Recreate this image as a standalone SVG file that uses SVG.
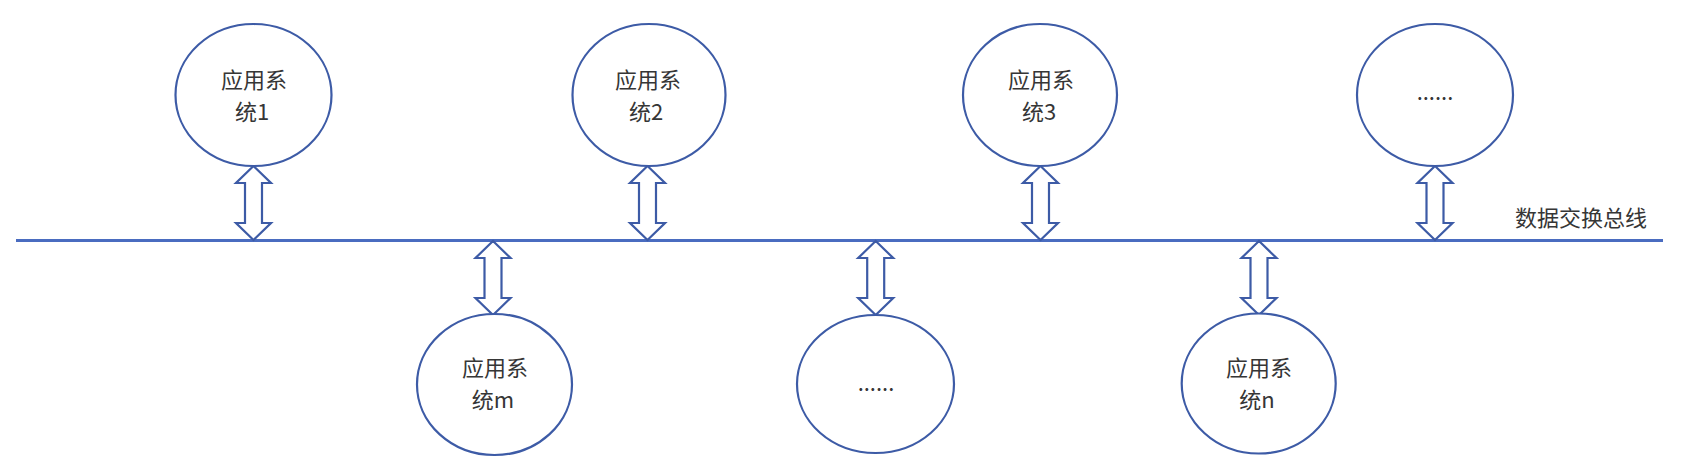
<svg xmlns="http://www.w3.org/2000/svg" width="1701" height="469" viewBox="0 0 1701 469">
<style>
.node ellipse{fill:#fff;stroke:#3d5ba6;stroke-width:2.2}
.lbl{font-family:"Noto Sans CJK SC","Noto Sans",sans-serif;font-size:22px;fill:#363636;text-anchor:middle}
.arr{fill:#fff;stroke:#3d5ba6;stroke-width:2.2;stroke-linejoin:miter}
</style>
<defs>
<path id="dblarrow" d="M0,0 L17.5,17 L8.5,17 L8.5,57 L17.5,57 L0,74 L-17.5,57 L-8.5,57 L-8.5,17 L-17.5,17 Z"/>
</defs>
<rect width="1701" height="469" fill="#fff"/>
<g id="connectors">
<line x1="16" y1="240.5" x2="1663" y2="240.5" stroke="#4a6cc0" stroke-width="3.2"/>
<use href="#dblarrow" class="arr" transform="translate(253.5,166)"/>
<use href="#dblarrow" class="arr" transform="translate(647.5,166)"/>
<use href="#dblarrow" class="arr" transform="translate(1040.5,166)"/>
<use href="#dblarrow" class="arr" transform="translate(1435,166)"/>
<use href="#dblarrow" class="arr" transform="translate(493,241)"/>
<use href="#dblarrow" class="arr" transform="translate(875.7,241)"/>
<use href="#dblarrow" class="arr" transform="translate(1259,241)"/>
</g>
<g id="bus-label"><text class="lbl" x="1581" y="226" font-size="23">数据交换总线</text></g>
<g id="node-app1" class="node"><ellipse cx="253.5" cy="95" rx="78" ry="71"/><text class="lbl"><tspan x="254" y="88">应用系</tspan><tspan x="252" y="120">统1</tspan></text></g>
<g id="node-app2" class="node"><ellipse cx="649" cy="95" rx="76.5" ry="71"/><text class="lbl"><tspan x="648" y="88">应用系</tspan><tspan x="646" y="120">统2</tspan></text></g>
<g id="node-app3" class="node"><ellipse cx="1040" cy="95" rx="77" ry="71"/><text class="lbl"><tspan x="1041" y="88">应用系</tspan><tspan x="1039" y="120">统3</tspan></text></g>
<g id="node-more-top" class="node"><ellipse cx="1435" cy="95" rx="78" ry="71"/><text class="lbl" x="1435" y="100">......</text></g>
<g id="node-appm" class="node"><ellipse cx="494.5" cy="384.5" rx="77.5" ry="70.5"/><text class="lbl"><tspan x="495" y="376">应用系</tspan><tspan x="493" y="408">统m</tspan></text></g>
<g id="node-more-bottom" class="node"><ellipse cx="875.5" cy="384" rx="78.5" ry="69"/><text class="lbl" x="876" y="391">......</text></g>
<g id="node-appn" class="node"><ellipse cx="1258.7" cy="383.5" rx="77" ry="70"/><text class="lbl"><tspan x="1259" y="376">应用系</tspan><tspan x="1257" y="408">统n</tspan></text></g>
</svg>
